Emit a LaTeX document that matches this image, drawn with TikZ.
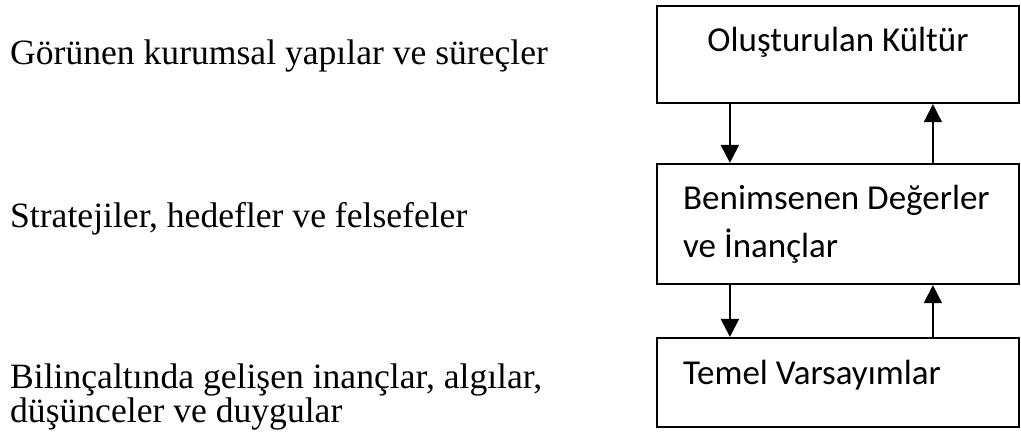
\documentclass[tikz,border=0pt]{standalone}
\usepackage{fontspec}
\setmainfont{Liberation Serif}
\newfontfamily\kutufont{Carlito}
\usetikzlibrary{arrows.meta, positioning}

\begin{document}
\begin{tikzpicture}[x=1pt, y=-1pt,
  kutu/.style={draw=black, line width=2.2pt, minimum width=362pt, inner sep=0pt},
  kutuyazi/.style={inner sep=0pt, font=\kutufont\fontsize{35}{48}\selectfont, align=left},
  solyazi/.style={inner sep=0pt, anchor=base west, align=left,
                  font=\fontsize{35.6}{34}\selectfont},
  asagi/.style={-{Triangle[width=18pt, length=18pt]}, line width=2.2pt},
  yukari/.style={-{Triangle[width=18pt, length=18pt]}, line width=1.5pt}
]
  \useasboundingbox (0,0) rectangle (1021,441);

  % -- kutular --
  \node[kutu, minimum height=97pt]  (olusan) at (838,54.5)  {};
  \node[kutu, minimum height=120pt] (deger)  at (838,224)   {};
  \node[kutu, minimum height=89pt]  (temel)  at (838,382.5) {};

  \node[kutuyazi, anchor=base] (olusanyazi) at (olusan.north |- 0,52) {Oluşturulan Kültür};
  \node[kutuyazi, anchor=base west] (degeryazi) at (683,258) {Benimsenen Değerler\\ve İnançlar};
  \node[kutuyazi, anchor=base west] (temelyazi) at (683,384) {Temel Varsayımlar};

  % -- oklar --
  \draw[asagi]  ([xshift=74pt]olusan.south west)  -- ([xshift=74pt]deger.north west);
  \draw[yukari] ([xshift=277pt]deger.north west)  -- ([xshift=277pt]olusan.south west);
  \draw[asagi]  ([xshift=74pt]deger.south west)   -- ([xshift=74pt]temel.north west);
  \draw[yukari] ([xshift=277pt]temel.north west)  -- ([xshift=277pt]deger.south west);

  % -- sol metinler --
  \node[solyazi] (gorunen)   at (10,65)  {Görünen kurumsal yapılar ve süreçler};
  \node[solyazi] (strateji)  at (10,227) {Stratejiler, hedefler ve felsefeler};
  \node[solyazi] (bilincalti) at (10,422) {Bilinçaltında gelişen inançlar, algılar,\\düşünceler ve duygular};
\end{tikzpicture}
\end{document}
